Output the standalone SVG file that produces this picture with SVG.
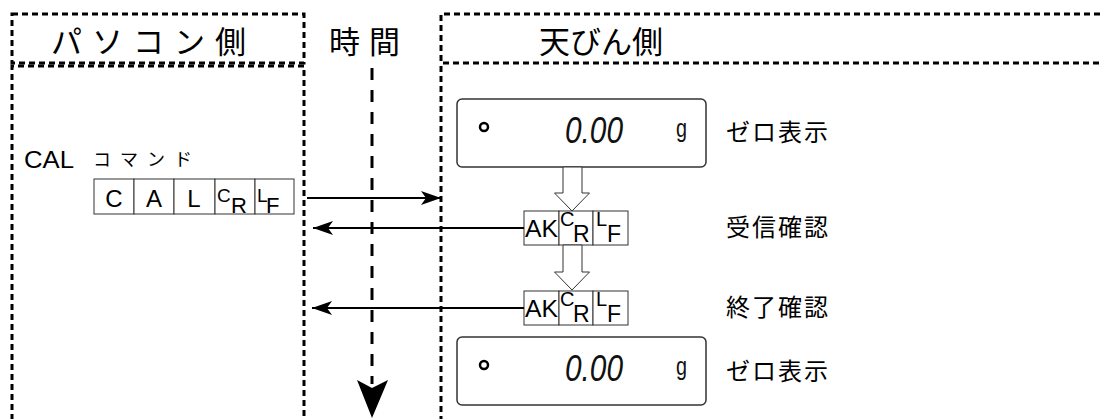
<svg xmlns="http://www.w3.org/2000/svg" width="1101" height="419" viewBox="0 0 1101 419">
<style>
.frame{fill:none;stroke:#000;stroke-width:3;stroke-dasharray:6 4}
.jp{font-family:"Noto Sans CJK JP","Noto Sans CJK SC",sans-serif;fill:#000}
.hdr{font-size:31px}
.lbl{font-size:24px;letter-spacing:2px}
.lat{font-family:"Liberation Sans",Arial,sans-serif;fill:#000}
.cell{fill:#fff;stroke:#333;stroke-width:1}
.disp{fill:#fff;stroke:#333;stroke-width:1.5}
.seg{font-family:"Liberation Sans",Arial,sans-serif;font-style:italic;font-size:37px;fill:#111}
.gch{font-family:"Liberation Sans",Arial,sans-serif;font-size:26px;fill:#111}
.hollow{fill:#fff;stroke:#333;stroke-width:1}
.conn{fill:none;stroke:#000;stroke-width:2}
</style>
<defs>
<marker id="ah" markerUnits="userSpaceOnUse" markerWidth="22" markerHeight="16" refX="20" refY="7" orient="auto">
<path d="M0,0 L20,7 L0,14 L5,7 Z" fill="#000"/>
</marker>
<g id="display">
<rect class="disp" x="0" y="0" width="249" height="68" rx="5"/>
<circle cx="27" cy="28" r="4" fill="none" stroke="#000" stroke-width="2.5"/>
<text class="seg" x="108" y="44" textLength="58" lengthAdjust="spacingAndGlyphs">0.00</text>
<text class="gch" x="219" y="38" textLength="11" lengthAdjust="spacingAndGlyphs">g</text>
</g>
<g id="akcrlf">
<rect class="cell" x="0" y="0" width="35" height="34"/>
<rect class="cell" x="35" y="0" width="34" height="34"/>
<rect class="cell" x="69" y="0" width="35" height="34"/>
<text class="lat" x="1" y="26" font-size="23" textLength="33" lengthAdjust="spacingAndGlyphs">AK</text>
<text class="lat" x="36" y="15" font-size="20">C</text>
<text class="lat" x="49" y="31" font-size="23">R</text>
<text class="lat" x="72" y="15" font-size="20">L</text>
<text class="lat" x="83" y="31" font-size="23">F</text>
</g>
</defs>

<g id="frames">
<rect class="frame" x="12" y="14" width="292" height="49"/>
<path class="frame" d="M12,440 V66 H304 V440"/>
<path class="frame" d="M1110,14 H441 V63 H1110"/>
<path class="frame" d="M441,66 V440"/>
</g>

<g id="headers">
<text class="jp hdr" x="51" y="53" letter-spacing="10">パソコン側</text>
<text class="jp hdr" x="329" y="53" letter-spacing="9">時間</text>
<text class="jp hdr" x="539" y="53">天びん側</text>
</g>

<g id="pc-command">
<text class="lat" x="24" y="168" font-size="23" textLength="50" lengthAdjust="spacingAndGlyphs">CAL</text>
<text class="jp" x="93" y="166" font-size="18" letter-spacing="9">コマンド</text>
<rect class="cell" x="94" y="179" width="40" height="35"/>
<rect class="cell" x="134" y="179" width="40" height="35"/>
<rect class="cell" x="174" y="179" width="41" height="35"/>
<rect class="cell" x="215" y="179" width="40" height="35"/>
<rect class="cell" x="255" y="179" width="39" height="35"/>
<text class="lat" x="114" y="207" font-size="24" text-anchor="middle">C</text>
<text class="lat" x="154" y="207" font-size="24" text-anchor="middle">A</text>
<text class="lat" x="194" y="207" font-size="24" text-anchor="middle">L</text>
<text class="lat" x="217" y="202" font-size="19">C</text>
<text class="lat" x="231" y="213" font-size="22">R</text>
<text class="lat" x="257" y="202" font-size="19">L</text>
<text class="lat" x="266" y="213" font-size="22">F</text>
</g>

<g id="display1"><use href="#display" x="457" y="99"/></g>
<g id="ack1"><use href="#akcrlf" x="524" y="211"/></g>
<g id="ack2"><use href="#akcrlf" x="524" y="291"/></g>
<g id="display2"><use href="#display" x="457" y="337"/></g>

<g id="labels">
<text class="jp lbl" x="726" y="141">ゼロ表示</text>
<text class="jp lbl" x="726" y="236">受信確認</text>
<text class="jp lbl" x="726" y="316">終了確認</text>
<text class="jp lbl" x="726" y="380">ゼロ表示</text>
</g>

<g id="connectors">
<line x1="372" y1="68" x2="372" y2="384" stroke="#000" stroke-width="3" stroke-dasharray="12 10"/>
<path d="M357,380 L372,388 L388,380 L372,418 Z" fill="#000"/>
<line class="conn" x1="307" y1="198" x2="441" y2="198" marker-end="url(#ah)"/>
<line class="conn" x1="524" y1="228" x2="313" y2="228" marker-end="url(#ah)"/>
<line class="conn" x1="524" y1="308" x2="312" y2="308" marker-end="url(#ah)"/>
<path class="hollow" d="M563,167 H582 V193 H589.5 L572,211 L554.5,193 H563 Z"/>
<path class="hollow" d="M563,245 H582 V272 H589.5 L572,290 L554.5,272 H563 Z"/>
</g>
</svg>
